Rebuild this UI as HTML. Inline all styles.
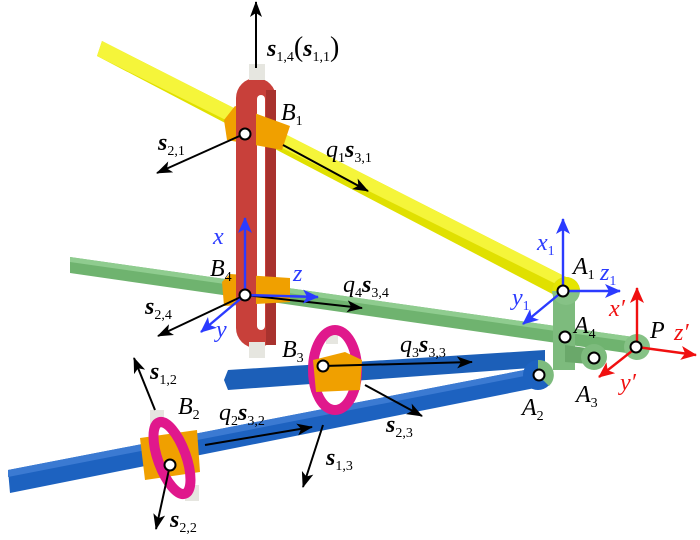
<!DOCTYPE html>
<html><head><meta charset="utf-8"><style>
html,body{margin:0;padding:0;background:#fff;}
svg{display:block;}
text{font-family:"Liberation Serif",serif;font-style:italic;font-size:24px;}
.b{font-weight:bold;}
.sub{font-size:14px;font-style:normal;}
</style></head><body>
<svg width="700" height="540" viewBox="0 0 700 540" xmlns="http://www.w3.org/2000/svg">
<defs>
<marker id="ak" markerWidth="16" markerHeight="12" refX="15" refY="6" orient="auto" markerUnits="userSpaceOnUse" viewBox="0 0 16 12"><path d="M0,0 L16,6 L0,12 L4,6z" fill="#000"/></marker>
<marker id="ab" markerWidth="16" markerHeight="14" refX="15" refY="7" orient="auto" markerUnits="userSpaceOnUse" viewBox="0 0 16 14"><path d="M0,0 L16,7 L0,14 L4,7z" fill="#2b3bff"/></marker>
<marker id="ar" markerWidth="16" markerHeight="14" refX="15" refY="7" orient="auto" markerUnits="userSpaceOnUse" viewBox="0 0 16 14"><path d="M0,0 L16,7 L0,14 L4,7z" fill="#f01010"/></marker>
</defs>
<!-- green bar -->
<polygon points="70,257 640,338 640,355 70,273" fill="#6fb36f"/>
<polygon points="70,257 640,338 640,343 70,262" fill="#8fcc8f"/>
<!-- yellow bar -->
<polygon points="97,56 102,41 572,280 560,298" fill="#e0e000"/>
<polygon points="97,56 102,41 572,280 566,289" fill="#f5f53a"/>
<!-- blue bars -->
<polygon points="228,370 545,350 545,367 228,390 224,380" fill="#1c5fb8"/>
<polygon points="8,470 545,366 545,386 10,493" fill="#1d62c0"/>
<polygon points="8,470 545,366 545,372 8,477" fill="#3b7ad2"/>
<!-- green body -->
<rect x="553" y="295" width="22" height="75" fill="#7dbb7d"/>
<polygon points="565,345 600,350 600,365 565,362" fill="#6aa86a"/>
<circle cx="566" cy="291" r="14" fill="#86c286"/>
<path d="M552,291 a14,14 0 0 1 28,0z" fill="#e5e500"/>
<circle cx="594" cy="357" r="13" fill="#7dbb7d"/>
<circle cx="538" cy="375" r="15" fill="#1d62c0"/>
<path d="M538,360 a15,15 0 0 1 11,26 l-11,-11z" fill="#7dbb7d"/>
<circle cx="637" cy="347" r="13" fill="#86c286"/>
<!-- red loop -->
<rect x="236" y="78" width="40" height="270" rx="20" fill="#c8403a"/>
<rect x="257" y="95" width="8" height="235" rx="4" fill="#fff"/>
<rect x="266" y="90" width="10" height="255" fill="#a8322e"/>
<rect x="249" y="64" width="16" height="16" fill="#e6e6e0"/>
<rect x="249" y="342" width="16" height="16" fill="#e6e6e0"/>
<!-- orange sliders -->
<polygon points="224,120 235,106 290,126 282,150 227,140" fill="#f0a000"/>
<polygon points="222,282 230,274 290,278 290,302 224,306" fill="#f0a000"/>
<rect x="236" y="106" width="20" height="44" fill="#c8403a"/>
<rect x="236" y="274" width="20" height="34" fill="#c8403a"/>
<!-- magenta ring B3 -->
<rect x="326" y="328" width="12" height="16" fill="#e6e6e0"/>
<ellipse cx="335" cy="370" rx="22" ry="40" fill="none" stroke="#e0188c" stroke-width="10"/>
<polygon points="313,360 345,352 362,360 360,390 316,392" fill="#f0a000"/>
<!-- magenta ring B2 -->
<rect x="150" y="410" width="14" height="18" fill="#e6e6e0"/>
<rect x="185" y="485" width="14" height="16" fill="#e6e6e0"/>
<polygon points="140,438 197,430 200,472 145,480" fill="#f0a000"/>
<ellipse cx="172" cy="458" rx="14" ry="38" transform="rotate(-20 172 458)" fill="none" stroke="#e0188c" stroke-width="10"/>
<!-- black arrows -->
<g stroke="#000" stroke-width="2" fill="none" marker-end="url(#ak)">
<line x1="256" y1="68" x2="256" y2="2"/>
<line x1="244" y1="134" x2="157" y2="173"/>
<line x1="283" y1="145" x2="368" y2="191"/>
<line x1="245" y1="295" x2="158" y2="336"/>
<line x1="245" y1="295" x2="362" y2="308"/>
<line x1="323" y1="366" x2="472" y2="362"/>
<line x1="365" y1="385" x2="422" y2="416"/>
<line x1="323" y1="425" x2="303" y2="487"/>
<line x1="205" y1="445" x2="312" y2="427"/>
<line x1="155" y1="410" x2="134" y2="358"/>
<line x1="170" y1="465" x2="156" y2="529"/>
</g>
<!-- blue axes -->
<g stroke="#2b3bff" stroke-width="2.4" fill="none" marker-end="url(#ab)">
<line x1="245" y1="295" x2="245" y2="218"/>
<line x1="245" y1="295" x2="318" y2="297"/>
<line x1="245" y1="295" x2="201" y2="332"/>
<line x1="563" y1="291" x2="563" y2="219"/>
<line x1="563" y1="291" x2="620" y2="291"/>
<line x1="563" y1="291" x2="523" y2="324"/>
</g>
<g stroke="#f01010" stroke-width="2.4" fill="none" marker-end="url(#ar)">
<line x1="637" y1="347" x2="637" y2="288"/>
<line x1="637" y1="347" x2="696" y2="355"/>
<line x1="637" y1="347" x2="599" y2="377"/>
</g>
<!-- dots -->
<g fill="#fff" stroke="#000" stroke-width="2">
<circle cx="245" cy="134" r="5.5"/><circle cx="245" cy="295" r="5.5"/>
<circle cx="323" cy="366" r="5.5"/><circle cx="170" cy="465" r="5.5"/>
<circle cx="563" cy="291" r="5.5"/><circle cx="565" cy="337" r="5.5"/>
<circle cx="636" cy="347" r="5.5"/><circle cx="594" cy="358" r="5.5"/>
<circle cx="539" cy="375" r="5.5"/>
</g>
<!-- labels -->
<text x="267" y="56"><tspan class="b">s</tspan><tspan class="sub" dy="5">1,4</tspan><tspan dy="-5" font-style="normal" font-size="28">(</tspan><tspan class="b">s</tspan><tspan class="sub" dy="5">1,1</tspan><tspan dy="-5" font-style="normal" font-size="28">)</tspan></text>
<text x="281" y="120">B<tspan class="sub" dy="5">1</tspan></text>
<text x="158" y="150"><tspan class="b">s</tspan><tspan class="sub" dy="5">2,1</tspan></text>
<text x="326" y="157">q<tspan class="sub" dy="5">1</tspan><tspan dy="-5" class="b">s</tspan><tspan class="sub" dy="5">3,1</tspan></text>
<text x="213" y="244" fill="#2b3bff">x</text>
<text x="210" y="276">B<tspan class="sub" dy="5">4</tspan></text>
<text x="293" y="281" fill="#2b3bff">z</text>
<text x="145" y="314"><tspan class="b">s</tspan><tspan class="sub" dy="5">2,4</tspan></text>
<text x="216" y="337" fill="#2b3bff">y</text>
<text x="343" y="292">q<tspan class="sub" dy="5">4</tspan><tspan dy="-5" class="b">s</tspan><tspan class="sub" dy="5">3,4</tspan></text>
<text x="282" y="357">B<tspan class="sub" dy="5">3</tspan></text>
<text x="400" y="352">q<tspan class="sub" dy="5">3</tspan><tspan dy="-5" class="b">s</tspan><tspan class="sub" dy="5">3,3</tspan></text>
<text x="386" y="432"><tspan class="b">s</tspan><tspan class="sub" dy="5">2,3</tspan></text>
<text x="326" y="465"><tspan class="b">s</tspan><tspan class="sub" dy="5">1,3</tspan></text>
<text x="150" y="379"><tspan class="b">s</tspan><tspan class="sub" dy="5">1,2</tspan></text>
<text x="178" y="414">B<tspan class="sub" dy="5">2</tspan></text>
<text x="219" y="420">q<tspan class="sub" dy="5">2</tspan><tspan dy="-5" class="b">s</tspan><tspan class="sub" dy="5">3,2</tspan></text>
<text x="170" y="527"><tspan class="b">s</tspan><tspan class="sub" dy="5">2,2</tspan></text>
<text x="537" y="250" fill="#2b3bff">x<tspan class="sub" dy="5">1</tspan></text>
<text x="573" y="274">A<tspan class="sub" dy="5">1</tspan></text>
<text x="600" y="280" fill="#2b3bff">z<tspan class="sub" dy="5">1</tspan></text>
<text x="512" y="305" fill="#2b3bff">y<tspan class="sub" dy="5">1</tspan></text>
<text x="574" y="333">A<tspan class="sub" dy="5">4</tspan></text>
<text x="609" y="316" fill="#f01010">x′</text>
<text x="650" y="338">P</text>
<text x="674" y="340" fill="#f01010">z′</text>
<text x="620" y="390" fill="#f01010">y′</text>
<text x="576" y="402">A<tspan class="sub" dy="5">3</tspan></text>
<text x="522" y="415">A<tspan class="sub" dy="5">2</tspan></text>
</svg>
</body></html>
